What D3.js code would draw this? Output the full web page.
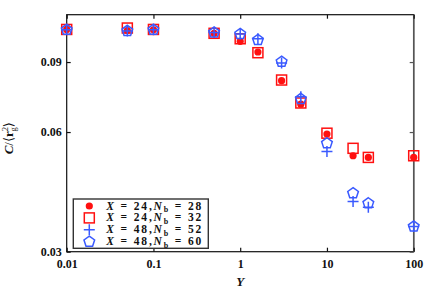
<!DOCTYPE html>
<html>
<head>
<meta charset="utf-8">
<script src="https://cdn.jsdelivr.net/npm/d3@7"></script>
<style>
body { margin: 0; background: #fff; }
text { font-family: "Liberation Serif", "DejaVu Serif", serif; font-weight: bold; }
</style>
</head>
<body>
<div id="chart"></div>
<script>
var yVals = [0.01, 0.05, 0.1, 0.5, 1, 1.6, 3, 5, 10, 20, 30, 100];
var s28 = [0.1087, 0.1080, 0.1085, 0.1063, 0.1015, 0.0954, 0.0808, 0.0705, 0.0593, 0.0523, 0.0518, 0.0518];
var s32 = [0.1087, 0.1096, 0.1087, 0.1063, 0.1030, 0.0950, 0.0811, 0.0710, 0.0596, 0.0546, 0.0518, 0.0523];
var s52 = [0.1085, 0.1078, 0.1085, 0.1068, 0.1059, 0.1030, 0.0895, 0.0736, 0.0536, 0.0401, 0.0388, 0.0347];
var s60 = [0.1085, 0.1078, 0.1085, 0.1068, 0.1059, 0.1023, 0.0902, 0.0727, 0.0562, 0.0421, 0.0397, 0.0347];
var xTicks = [0.01, 0.1, 1, 10, 100];
var xTickLabels = ["0.01", "0.1", "1", "10", "100"];
var yTicks = [0.03, 0.06, 0.09];
var yTickLabels = ["0.03", "0.06", "0.09"];
var legendX = [24, 24, 48, 48];
var legendNb = [28, 32, 52, 60];

var red = "#ff1010", blue = "#3a5aff";
var series = [
  {vals: s28, shape: "circle", color: red},
  {vals: s32, shape: "square", color: red},
  {vals: s52, shape: "plus", color: blue},
  {vals: s60, shape: "pentagon", color: blue}
];

var W = 436, H = 291;
var margin = {top: 14.7, right: 22.3, bottom: 39.3, left: 66.7},
    width = W - margin.left - margin.right,
    height = H - margin.top - margin.bottom;

var svg = d3.select("#chart").append("svg")
    .attr("width", W).attr("height", H)
  .append("g")
    .attr("transform", "translate(" + margin.left + "," + margin.top + ")");

var x = d3.scaleLog().domain([0.01, 100]).range([0, width]);
var y = d3.scaleLog().domain([0.03, 0.1184]).range([height, 0]);

// frame
svg.append("rect").attr("width", width).attr("height", height)
    .attr("fill", "none").attr("stroke", "#111").attr("stroke-width", 1.2);
svg.append("line").attr("x1", width).attr("x2", width).attr("y1", 0).attr("y2", height)
    .attr("stroke", "#555").attr("stroke-width", 1.5);

// inward ticks
var tl = 4;
svg.append("g").attr("transform", "translate(0," + height + ")")
    .call(d3.axisBottom(x).tickValues(xTicks).tickSize(-tl).tickFormat(function(d, i) { return xTickLabels[i]; }))
    .call(function(g) {
      g.select(".domain").remove();
      g.selectAll("line").attr("stroke", "#111").attr("stroke-width", 1.2);
      g.selectAll("text").attr("y", 8).attr("font-size", "12px").attr("fill", "#111")
        .style("font-family", "Liberation Serif").style("font-weight", "bold");
    });
svg.append("g")
    .call(d3.axisTop(x).tickValues(xTicks).tickSize(-tl).tickFormat(""))
    .call(function(g) { g.select(".domain").remove(); g.selectAll("line").attr("stroke", "#111").attr("stroke-width", 1.2); });
svg.append("g")
    .call(d3.axisLeft(y).tickValues(yTicks).tickSize(-tl).tickFormat(function(d, i) { return yTickLabels[i]; }))
    .call(function(g) {
      g.select(".domain").remove();
      g.selectAll("line").attr("stroke", "#111").attr("stroke-width", 1.2);
      g.selectAll("text").attr("x", -5).attr("font-size", "12px").attr("fill", "#111")
        .style("font-family", "Liberation Serif").style("font-weight", "bold");
    });
svg.append("g").attr("transform", "translate(" + width + ",0)")
    .call(d3.axisRight(y).tickValues(yTicks).tickSize(-tl).tickFormat(""))
    .call(function(g) { g.select(".domain").remove(); g.selectAll("line").attr("stroke", "#555").attr("stroke-width", 1.2); });

// markers
function pentagonPath(r) {
  var pts = [];
  for (var k = 0; k < 5; k++) {
    var a = -Math.PI / 2 + k * 2 * Math.PI / 5;
    pts.push([r * Math.cos(a), r * Math.sin(a)]);
  }
  return d3.line()(pts) + "Z";
}
function marker(g, shape, color) {
  if (shape === "circle") {
    g.append("circle").attr("r", 3.6).attr("fill", color);
  } else if (shape === "square") {
    g.append("rect").attr("x", -5).attr("y", -5).attr("width", 10).attr("height", 10)
      .attr("fill", "none").attr("stroke", color).attr("stroke-width", 1.5);
  } else if (shape === "plus") {
    g.append("path").attr("d", "M-5.5,0H5.5M0,-5.5V5.5")
      .attr("fill", "none").attr("stroke", color).attr("stroke-width", 1.5);
  } else {
    g.append("path").attr("d", pentagonPath(5.6))
      .attr("fill", "none").attr("stroke", color).attr("stroke-width", 1.5);
  }
}

series.forEach(function(s) {
  svg.append("g").selectAll("g").data(s.vals).enter().append("g")
    .attr("transform", function(d, i) { return "translate(" + x(yVals[i]) + "," + y(d) + ")"; })
    .each(function() { marker(d3.select(this), s.shape, s.color); });
});

// legend
var lg = svg.append("g").attr("transform", "translate(" + (73.3 - margin.left) + "," + (199 - margin.top) + ")");
lg.append("rect").attr("width", 135).attr("height", 49.3).attr("fill", "#fff")
  .attr("stroke", "#333").attr("stroke-width", 1.4);
series.forEach(function(s, i) {
  var row = lg.append("g").attr("transform", "translate(0," + (7 + i * 11.9) + ")");
  marker(row.append("g").attr("transform", "translate(16,0)"), s.shape, s.color);
  var t = row.append("text").attr("x", 33).attr("y", 3.5).attr("font-size", "11.5px").attr("fill", "#111");
  t.append("tspan").attr("font-style", "italic").text("X");
  t.append("tspan").text(" = " + legendX[i] + ",");
  t.append("tspan").attr("font-style", "italic").text("N");
  t.append("tspan").attr("font-size", "8px").attr("dy", 2.5).text("b");
  t.append("tspan").attr("dy", -2.5).text(" = " + legendNb[i]);
  t.attr("textLength", 95).attr("lengthAdjust", "spacing");
});

// axis titles
svg.append("text").attr("x", x(1)).attr("y", height + 34).attr("text-anchor", "middle")
  .attr("font-size", "13px").attr("font-style", "italic").attr("fill", "#111").text("Y");

var yl = svg.append("text").attr("transform", "translate(" + (-54) + "," + (height / 2 + 5) + ") rotate(-90)")
  .attr("text-anchor", "middle").attr("font-size", "13px").attr("fill", "#111");
yl.append("tspan").attr("font-style", "italic").text("C");
yl.append("tspan").style("font-weight", "normal").text("/\u27E8");
yl.append("tspan").text("r");
yl.append("tspan").attr("font-size", "8.5px").attr("dy", -5).style("font-weight", "normal").text("2");
yl.append("tspan").attr("font-size", "8.5px").attr("dx", -4.5).attr("dy", 8).style("font-weight", "normal").text("g");
yl.append("tspan").attr("dy", -3).style("font-weight", "normal").text("\u27E9");
</script>
</body>
</html>
